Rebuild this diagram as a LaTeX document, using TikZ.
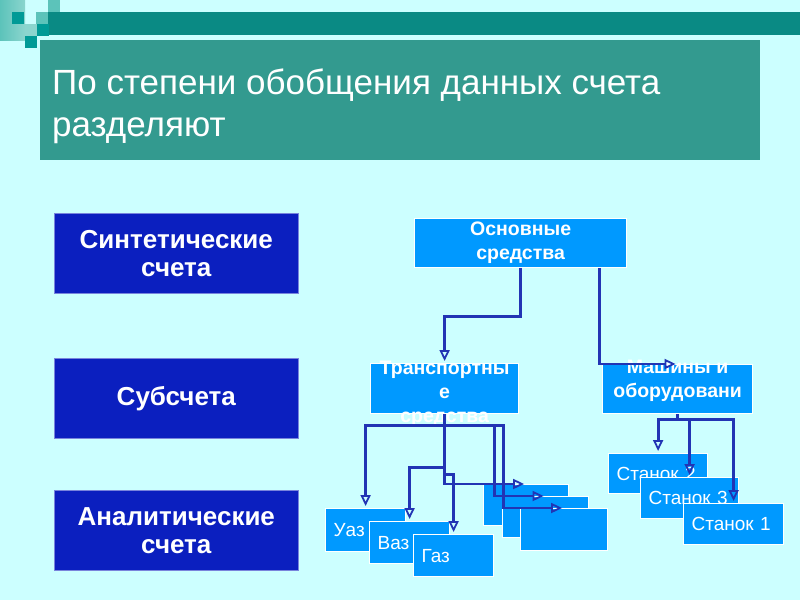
\documentclass[tikz,border=0pt]{standalone}
\usepackage{fontspec}
\setmainfont{Liberation Sans}
\usetikzlibrary{arrows.meta,calc}

\definecolor{bgcyan}{HTML}{CCFFFF}
\definecolor{tealband}{HTML}{0A8A84}
\definecolor{tealdark}{HTML}{009A96}
\definecolor{tealmid}{HTML}{5CC3BA}
\definecolor{teallight}{HTML}{8BD5CE}
\definecolor{titleteal}{HTML}{339A8F}
\definecolor{navybox}{HTML}{0B1FBF}
\definecolor{skybox}{HTML}{0099FF}
\definecolor{linkblue}{HTML}{2234B4}

\begin{document}
\begin{tikzpicture}[x=1pt, y=-1pt,
    titletext/.style={text=white, anchor=north west, inner sep=0pt, align=left,
      font=\fontsize{35}{42}\selectfont},
    level/.style={fill=navybox, draw=navybox!55!white, line width=.6pt, text=white, inner sep=0pt,
      anchor=north west, minimum width=244, minimum height=80, align=center,
      font=\bfseries\fontsize{26}{28}\selectfont},
    acct/.style={fill=skybox, draw=white, line width=1.2pt, text=white, inner sep=0pt,
      anchor=north west, align=center, font=\bfseries\fontsize{19.5}{24}\selectfont},
    acctext/.style={text=white, align=center, inner sep=0pt, font=\bfseries\fontsize{19.5}{24}\selectfont},
    item/.style={fill=skybox, draw=white, line width=1.2pt, text=white, inner xsep=8pt, inner ysep=0pt,
      anchor=north west, text width=#1, align=left, font=\fontsize{19}{23}\selectfont},
    link/.style={draw=linkblue, line width=2.8pt, shorten >=2pt,
      -{Triangle[open, length=11pt, width=10pt, line width=1.8pt]}}
  ]
  \useasboundingbox (0,0) rectangle (800,600);
  \fill[bgcyan] (0,0) rectangle (800,600);

  \shade[left color=tealmid, right color=teallight] (0,0) rectangle (25,40);
  \fill[tealband] (48,12) rectangle (800,35);
  \foreach \px/\py/\c in {12/12/tealdark, 36/12/tealmid, 48/0/tealmid, 25/24/teallight, 37/24/tealdark, 25/36/tealdark}
    \fill[\c] (\px,\py) rectangle ++(12,12);

  \fill[titleteal] (40,40) rectangle (760,160);
  \node[titletext] (title) at (52,69) {По степени обобщения данных счета\\разделяют};

  \node[level] (synt) at (54,213) {Синтетические\\счета};
  \node[level] (sub)  at (54,358) {Субсчета};
  \node[level] (anal) at (54,490) {Аналитические\\счета};

  \node[acct, minimum width=212, minimum height=49] (fixed) at (414,218) {Основные\\средства};
  \node[acct, minimum width=148, minimum height=50,
    label={[acctext, yshift=-5pt]center:{Транспортны\\е\\средства}}] (trans) at (370,363) {};
  \node[acct, minimum width=150, minimum height=49,
    label={[acctext, yshift=8pt]center:{Машины и\\оборудовани}}] (mach) at (602,364) {};

  \node[item=64pt, minimum height=43] (uaz) at (325,508) {Уаз};
  \node[item=64pt, minimum height=42] (vaz) at (369,521) {Ваз};
  \node[item=64pt, minimum height=42] (gaz) at (413,534) {Газ};

  \node[acct, minimum width=85, minimum height=41] (blank1) at (483,484) {};
  \node[acct, minimum width=86, minimum height=41] (blank2) at (502,496) {};
  \node[acct, minimum width=87, minimum height=42] (blank3) at (520,508) {};

  \node[item=83pt, minimum height=40] (st2) at (608,453) {Станок 2};
  \node[item=82pt, minimum height=41] (st3) at (640,477) {Станок 3};
  \node[item=84pt, minimum height=41] (st1) at (683,503) {Станок 1};

  \draw[link] (fixed.south) -- ++(0,48) -| (trans.north);
  \draw[link] ($(fixed.south east)+(-28,0)$) |- (mach.north);

  \draw[link] (trans.south) -- ++(0,11) -| (uaz.north);
  \draw[link] (trans.south) -- ++(0,53) -| (vaz.north);
  \draw[link] (trans.south) -- ++(0,60) -| (gaz.north);
  \draw[link] (trans.south) |- (blank1.north);
  \draw[link] (trans.south) -- ++(0,11) -- ++(50,0) |- (blank2.north);
  \draw[link] (trans.south) -- ++(0,11) -- ++(59,0) |- (blank3.north);

  \draw[link] (mach.south) -- ++(0,5) -| (st2.north);
  \draw[link] (mach.south) -- ++(0,5) -| (st3.north);
  \draw[link] (mach.south) -- ++(0,5) -| (st1.north);
\end{tikzpicture}
\end{document}
